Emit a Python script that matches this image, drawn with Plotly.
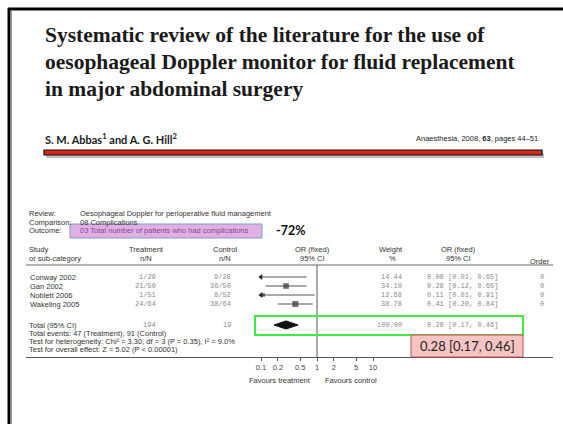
import plotly.graph_objects as go

W, H = 563, 424

# ---- data -------------------------------------------------------------
studies = ["Conway 2002", "Gan 2002", "Noblett 2006", "Wakeling 2005"]
treat_n = ["1/29", "21/50", "1/51", "24/64"]
ctrl_n = ["9/28", "36/50", "8/52", "38/64"]
weights = [14.44, 34.10, 12.68, 38.78]
or_est = [0.08, 0.28, 0.11, 0.41]
ci_lo = [0.01, 0.12, 0.01, 0.20]
ci_hi = [0.65, 0.65, 0.91, 0.84]
order = [0, 0, 0, 0]

total_treat = "194"
total_ctrl = "19"
total_weight = 100.00
total_or = 0.28
total_lo = 0.17
total_hi = 0.46
reduction = "-72%"

x_ticks = [0.1, 0.2, 0.5, 1, 2, 5, 10]
plot_min, plot_max = 0.1, 10

# ---- helpers ------------------------------------------------------------
def px(x):
    return x / W

def py(y):
    return 1 - y / H

SANS = "Liberation Sans"
MONO = "Liberation Mono"
SERIF = "Liberation Serif"
TXT = "#333333"
NUM = "#8a8a8a"

annotations = []
shapes = []

def note(x, y, text, size=7.5, color=TXT, family=SANS, xanchor="left",
         yref="paper", **kw):
    annotations.append(dict(
        x=x, y=y, xref="paper", yref=yref, text=text, showarrow=False,
        xanchor=xanchor, yanchor="middle",
        font=dict(size=size, color=color, family=family), **kw))

def rect(x0, y0, x1, y1, fill="rgba(0,0,0,0)", line="#000", width=1, layer="above"):
    shapes.append(dict(type="rect", xref="paper", yref="paper",
                       x0=px(x0), x1=px(x1), y0=py(y0), y1=py(y1),
                       fillcolor=fill, line=dict(color=line, width=width),
                       layer=layer))

def hline(x0, x1, y, color="#000", width=1):
    shapes.append(dict(type="line", xref="paper", yref="paper",
                       x0=px(x0), x1=px(x1), y0=py(y), y1=py(y),
                       line=dict(color=color, width=width)))

def vline(x, y0, y1, color="#000", width=1):
    shapes.append(dict(type="line", xref="paper", yref="paper",
                       x0=px(x), x1=px(x), y0=py(y0), y1=py(y1),
                       line=dict(color=color, width=width)))

# ---- slide frame ----------------------------------------------------------
hline(8, W, 9, "#000", 3)
vline(9, 8, H, "#000", 3)
vline(11.5, 10, H, "#9a9a9a", 1)

# ---- slide heading ----------------------------------------------------------
title_lines = [
    "Systematic review of the literature for the use of",
    "oesophageal Doppler monitor for fluid replacement",
    "in major abdominal surgery",
]
for k, line in enumerate(title_lines):
    note(px(43), py(35 + 27 * k), f"<b>{line}</b>", size=21.5, color="#1a1a1a",
         family=SERIF)

note(px(43), py(138), "<b>S. M. Abbas<sup>1</sup> and A. G. Hill<sup>2</sup></b>",
     size=11, color="#1a1a1a", family="Lato")
note(px(540), py(138), "Anaesthesia, 2008, <b>63</b>, pages 44–51",
     size=7.5, color="#222", family=SANS, xanchor="right")

# red rule with a soft shadow
rect(46, 153, 544, 158, fill="rgba(0,0,0,0.25)", line="rgba(0,0,0,0)", width=0)
rect(44, 150, 542, 155, fill="#d8261a", line="#111", width=1.2)

# ---- review header ----------------------------------------------------------
note(px(27), py(213), "Review:")
note(px(78), py(213), "Oesophageal Doppler for perioperative fluid management")
note(px(27), py(222), "Comparison:")
note(px(78), py(222), "08 Complications")
rect(70, 224, 262, 238, fill="#e0b0e2", line="#7f9ccc", width=1)
note(px(27), py(231), "Outcome:")
note(px(78), py(231), "03 Total number of patients who had complications",
     color="#8a4596")
note(px(274), py(231), f"<b>{reduction}</b>", size=12.5, color="#111",
     family="Lato")

# column headers
note(px(27), py(249), "Study")
note(px(27), py(258), "or sub-category")
note(px(146), py(249), "Treatment", xanchor="center")
note(px(146), py(258), "n/N", xanchor="center")
note(px(225), py(249), "Control", xanchor="center")
note(px(225), py(258), "n/N", xanchor="center")
note(px(312), py(249), "OR (fixed)", xanchor="center")
note(px(312), py(258), "95% CI", xanchor="center")
note(px(391), py(249), "Weight", xanchor="center")
note(px(392), py(258), "%", xanchor="center")
note(px(458), py(249), "OR (fixed)", xanchor="center")
note(px(458), py(258), "95% CI", xanchor="center")
note(px(552), py(261), "Order", xanchor="right")
hline(26, 553, 265, "#666", 1)

# ---- forest plot ------------------------------------------------------------
ROW0, ROW_STEP = 277, 9          # pixel row of the first study, row pitch
AX_TOP, AX_BOTTOM = 265, 357     # header rule and x axis line
n = len(studies)
rows = list(range(n))
total_row = n + 1.333

fig = go.Figure()

# confidence intervals, clipped to the plotting window
ci_x, ci_y = [], []
arrow_y = []
for i in rows:
    lo_c = max(ci_lo[i], plot_min)
    hi_c = min(ci_hi[i], plot_max)
    ci_x += [lo_c, hi_c, None]
    ci_y += [i, i, None]
    if ci_lo[i] < plot_min:
        arrow_y.append(i)
fig.add_trace(go.Scatter(x=ci_x, y=ci_y, mode="lines",
                         line=dict(color="#555", width=1.1),
                         hoverinfo="skip"))
fig.add_trace(go.Scatter(x=[plot_min] * len(arrow_y), y=arrow_y, mode="markers",
                         marker=dict(symbol="triangle-left", size=5, color="#222"),
                         hoverinfo="skip"))

# point estimates, box size scaled by weight
keep = [i for i in rows if plot_min <= or_est[i] <= plot_max]
fig.add_trace(go.Scatter(x=[or_est[i] for i in keep], y=keep, mode="markers",
                         marker=dict(symbol="square",
                                     size=[2.2 + 0.1 * weights[i] for i in keep],
                                     color="#333", line=dict(width=0)),
                         hoverinfo="skip"))

# pooled estimate diamond
dh = 0.45
fig.add_trace(go.Scatter(
    x=[total_lo, total_or, total_hi, total_or, total_lo],
    y=[total_row, total_row - dh, total_row, total_row + dh, total_row],
    mode="lines", fill="toself", fillcolor="#111",
    line=dict(color="#111", width=1), hoverinfo="skip"))

# line of no effect
shapes.append(dict(type="line", xref="x", yref="paper", x0=1, x1=1,
                   y0=py(AX_BOTTOM), y1=py(AX_TOP),
                   line=dict(color="#555", width=1)))

# ---- per-study text columns -------------------------------------------------
def num(x, row, text, anchor="right"):
    note(px(x), row, text, size=7, color=NUM, family=MONO, xanchor=anchor,
         yref="y")

for i in rows:
    note(px(28), i, studies[i], yref="y")
    num(158, i, treat_n[i])
    num(233, i, ctrl_n[i])
    num(404, i, f"{weights[i]:.2f}")
    num(425, i, f"{or_est[i]:.2f} [{ci_lo[i]:.2f}, {ci_hi[i]:.2f}]", "left")
    num(546, i, str(order[i]))

note(px(27), total_row, "Total (95% CI)", yref="y")
num(158, total_row, total_treat)
num(233, total_row, total_ctrl)
num(404, total_row, f"{total_weight:.2f}")
num(425, total_row, f"{total_or:.2f} [{total_lo:.2f}, {total_hi:.2f}]", "left")

note(px(27), py(333), "Total events: 47 (Treatment), 91 (Control)")
note(px(27), py(341), "Test for heterogeneity: Chi² = 3.30, df = 3 (P = 0.35), I² = 9.0%")
note(px(27), py(349), "Test for overall effect: Z = 5.02 (P < 0.00001)")

# highlight boxes around the pooled result
rect(255, 316, 523, 335, line="#3ded3d", width=2)
rect(411, 335, 523, 357, fill="#f7c4c4", line="#c0504d", width=1)
note(px(467), py(346), f"{total_or:.2f} [{total_lo:.2f}, {total_hi:.2f}]",
     size=13, color="#222", family="Lato", xanchor="center")

note(px(313), py(380), "Favours treatment", xanchor="right")
note(px(323), py(380), "Favours control")

# ---- layout -----------------------------------------------------------------
px_per_decade = 56.0
x_one = 317.0
x_left = (26 - x_one) / px_per_decade
x_right = (553 - x_one) / px_per_decade
y_top = -(ROW0 - AX_TOP) / ROW_STEP
y_bottom = (AX_BOTTOM - ROW0) / ROW_STEP

fig.update_layout(
    width=W, height=H,
    margin=dict(l=0, r=0, t=0, b=0),
    paper_bgcolor="white", plot_bgcolor="white",
    showlegend=False,
    xaxis=dict(type="log", domain=[px(26), px(553)], range=[x_left, x_right],
               tickvals=x_ticks, ticktext=[f"{t:g}" for t in x_ticks],
               ticks="outside", ticklen=3, tickcolor="#555", tickwidth=1,
               showline=True, linecolor="#555", linewidth=1,
               showgrid=False, zeroline=False, fixedrange=True,
               tickfont=dict(size=7.5, color="#444", family=SANS)),
    yaxis=dict(domain=[py(AX_BOTTOM), py(AX_TOP)], range=[y_bottom, y_top],
               visible=False, fixedrange=True),
    annotations=annotations,
    shapes=shapes,
)

fig.write_html("out.html")
